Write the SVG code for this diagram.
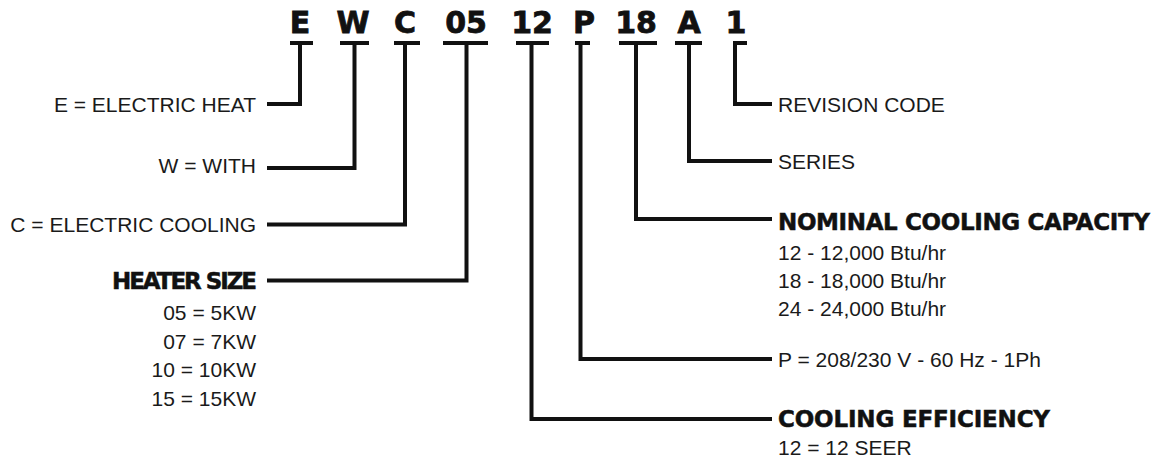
<svg xmlns="http://www.w3.org/2000/svg" width="1163" height="462" viewBox="0 0 1163 462">
<style>
.code{font-family:"DejaVu Sans","Liberation Sans",sans-serif;font-weight:bold;font-size:30px;fill:#111;stroke:#111;stroke-width:0.8;text-anchor:middle}
.lbl{font-family:"Liberation Sans",Arial,sans-serif;font-size:21px;fill:#1a1a1a}
.hd{font-family:"DejaVu Sans","Liberation Sans",sans-serif;font-weight:bold;font-size:23px;fill:#111;stroke:#111;stroke-width:0.5}
.end{text-anchor:end}
.ln{fill:none;stroke:#111;stroke-width:4;stroke-linejoin:miter;stroke-linecap:butt}
</style>
<rect width="1163" height="462" fill="#fff"/>
<g id="connectors">
<path class="ln" d="M290,43H313M300,43V104H267"/>
<path class="ln" d="M340,43H369M354.5,43V168H267"/>
<path class="ln" d="M394,43H420M405,43V224.5H267"/>
<path class="ln" d="M443,43H488M466.5,43V280.5H267"/>
<path class="ln" d="M516,43H549M531.5,43V419H772"/>
<path class="ln" d="M575,43H590M580.5,43V359H772"/>
<path class="ln" d="M619,43H657M636,43V219H772"/>
<path class="ln" d="M675,43H702M689,43V161H772"/>
<path class="ln" d="M733,43H747M735,41V104H772"/>
</g>
<g id="code">
<text class="code" x="300" y="33">E</text>
<text class="code" x="353" y="33">W</text>
<text class="code" x="405" y="33">C</text>
<text class="code" x="466" y="33">05</text>
<text class="code" x="532" y="33">12</text>
<text class="code" x="584" y="33">P</text>
<text class="code" x="636" y="33">18</text>
<text class="code" x="689" y="33">A</text>
<text class="code" x="736" y="33">1</text>
</g>
<g id="node-e"><text class="lbl end" x="256" y="112">E = ELECTRIC HEAT</text></g>
<g id="node-w"><text class="lbl end" x="256" y="173">W = WITH</text></g>
<g id="node-c"><text class="lbl end" x="256" y="232">C = ELECTRIC COOLING</text></g>
<g id="node-heater">
<text class="hd end" x="257" y="289" font-size="21" textLength="145" lengthAdjust="spacing">HEATER SIZE</text>
<text class="lbl end" x="256" y="320">05 = 5KW</text>
<text class="lbl end" x="256" y="349">07 = 7KW</text>
<text class="lbl end" x="256" y="377">10 = 10KW</text>
<text class="lbl end" x="256" y="406">15 = 15KW</text>
</g>
<g id="node-revision"><text class="lbl" x="778" y="112">REVISION CODE</text></g>
<g id="node-series"><text class="lbl" x="778" y="169">SERIES</text></g>
<g id="node-capacity">
<text class="hd" x="778" y="230" textLength="372" lengthAdjust="spacing">NOMINAL COOLING CAPACITY</text>
<text class="lbl" x="778" y="260">12 - 12,000 Btu/hr</text>
<text class="lbl" x="778" y="288">18 - 18,000 Btu/hr</text>
<text class="lbl" x="778" y="316">24 - 24,000 Btu/hr</text>
</g>
<g id="node-power"><text class="lbl" x="778" y="367">P = 208/230 V - 60 Hz - 1Ph</text></g>
<g id="node-efficiency">
<text class="hd" x="778" y="427" textLength="272" lengthAdjust="spacing">COOLING EFFICIENCY</text>
<text class="lbl" x="778" y="455">12 = 12 SEER</text>
</g>
</svg>
